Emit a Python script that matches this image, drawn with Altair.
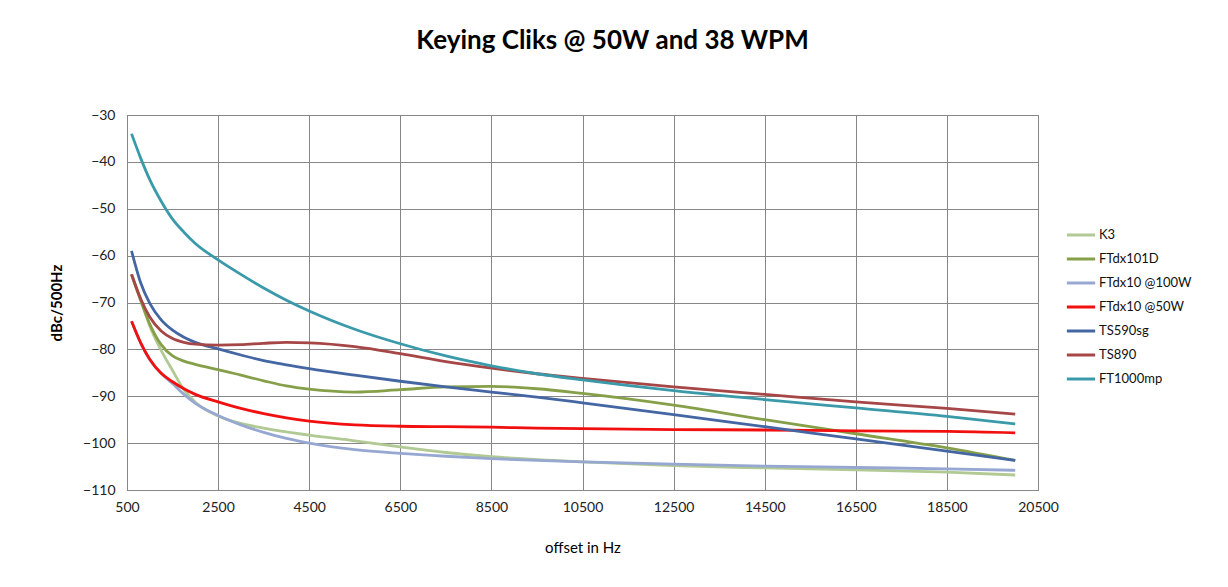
import altair as alt
import pandas as pd

offsets = [600, 800, 1000, 1250, 1500, 1750, 2000, 2500, 3000, 3500, 4000, 4500,
           5500, 6500, 7500, 8500, 9500, 10500, 12500, 14500, 16500, 18500, 20000]

series_names = ["K3", "FTdx101D", "FTdx10 @100W", "FTdx10 @50W", "TS590sg", "TS890", "FT1000mp"]
series_colors = ["#B1C992", "#86A04A", "#96A8D2", "#F20F0F", "#4466A2", "#A64646", "#3A9AAA"]

k3 = [-64, -69.3, -75, -80.2, -84.5, -88.6, -91.3, -94.2, -95.8, -96.8, -97.6, -98.3,
      -99.5, -100.8, -102.0, -102.9, -103.5, -104, -104.8, -105.3, -105.7, -106.2, -106.8]
ftdx101d = [-64, -69.6, -74.6, -79.0, -81.4, -82.5, -83.2, -84.3, -85.5, -86.7, -87.8, -88.5,
            -89.1, -88.6, -88.0, -87.9, -88.4, -89.4, -91.9, -95.0, -98.0, -101, -103.7]
ftdx10_100 = [-74, -78.6, -82.2, -85.1, -87.3, -89.6, -91.5, -94.1, -96.1, -97.7, -99, -100.0,
              -101.4, -102.2, -102.8, -103.3, -103.7, -104, -104.5, -104.9, -105.2, -105.5, -105.8]
ftdx10_50 = [-74, -78.6, -82.1, -85.1, -86.9, -88.4, -89.6, -91.2, -92.6, -93.7, -94.6, -95.3,
             -96.1, -96.4, -96.5, -96.6, -96.8, -96.9, -97.1, -97.2, -97.4, -97.5, -97.8]
ts590sg = [-59, -65.8, -70.2, -73.7, -75.9, -77.4, -78.5, -79.9, -81.2, -82.4, -83.3, -84.1,
           -85.5, -86.8, -88, -89.1, -90.2, -91.4, -93.9, -96.5, -99.1, -101.7, -103.7]
ts890 = [-64, -69.2, -73.1, -76.1, -77.7, -78.5, -78.9, -79.1, -79, -78.7, -78.5, -78.6,
         -79.4, -80.9, -82.6, -84.0, -85.2, -86.2, -88, -89.6, -91.2, -92.6, -93.8]
ft1000mp = [-34, -39.2, -43.8, -48.4, -52.2, -55.0, -57.4, -60.9, -64.0, -66.9, -69.5, -71.8,
            -75.7, -78.8, -81.4, -83.5, -85.2, -86.5, -88.8, -90.7, -92.5, -94.3, -95.9]

x_ticks = [500, 2500, 4500, 6500, 8500, 10500, 12500, 14500, 16500, 18500, 20500]
y_ticks = [-110, -100, -90, -80, -70, -60, -50, -40, -30]

all_values = [k3, ftdx101d, ftdx10_100, ftdx10_50, ts590sg, ts890, ft1000mp]
rows = []
for order, (name, vals) in enumerate(zip(series_names, all_values)):
    for x, v in zip(offsets, vals):
        rows.append({"offset": x, "dbc": v, "series": name, "order": order})
df = pd.DataFrame(rows)

FONT = "Lato"
GRID = "#878787"

chart = alt.Chart(df).mark_line(strokeWidth=2.8, interpolate="monotone").encode(
    x=alt.X("offset:Q",
            scale=alt.Scale(domain=[500, 20500], nice=False, zero=False),
            axis=alt.Axis(values=x_ticks, format="d", title="offset in Hz",
                          titleFontWeight="normal", titleFontSize=15, titlePadding=26,
                          labelPadding=10, labelFlush=False)),
    y=alt.Y("dbc:Q",
            scale=alt.Scale(domain=[-110, -30], nice=False, zero=False),
            axis=alt.Axis(values=y_ticks, format="d", title="dBc/500Hz",
                          titleFontWeight="bold", titleFontSize=15, titlePadding=18,
                          labelPadding=12, labelFlush=False)),
    color=alt.Color("series:N",
                    scale=alt.Scale(domain=series_names, range=series_colors),
                    sort=series_names,
                    legend=alt.Legend(title=None, orient="none", legendX=938, legendY=104,
                                      symbolType="stroke", symbolSize=800,
                                      symbolStrokeWidth=3, labelFontSize=13,
                                      labelFont=FONT, labelColor="#111111",
                                      rowPadding=1, labelOffset=2)),
    detail="series:N",
    order=alt.Order("order:Q"),
).properties(
    width=911,
    height=375,
    background="white",
    title=alt.TitleParams("Keying Cliks @ 50W and 38 WPM", fontSize=26, font=FONT,
                          fontWeight="bold", color="#000000", anchor="middle",
                          offset=54, dx=30),
    padding={"left": 119, "top": 107, "right": 180, "bottom": 80},
    autosize=alt.AutoSizeParams(type="none"),
).configure_axis(
    grid=True,
    gridColor=GRID,
    gridWidth=1,
    gridOpacity=1,
    domainColor=GRID,
    domainWidth=1,
    ticks=False,
    labelFont=FONT,
    labelFontSize=14,
    labelColor="#222222",
    titleFont=FONT,
    titleColor="#000000",
).configure_view(
    stroke=GRID,
    strokeWidth=1,
)

chart.save("out.html", embed_options={"renderer": "svg", "actions": False})
